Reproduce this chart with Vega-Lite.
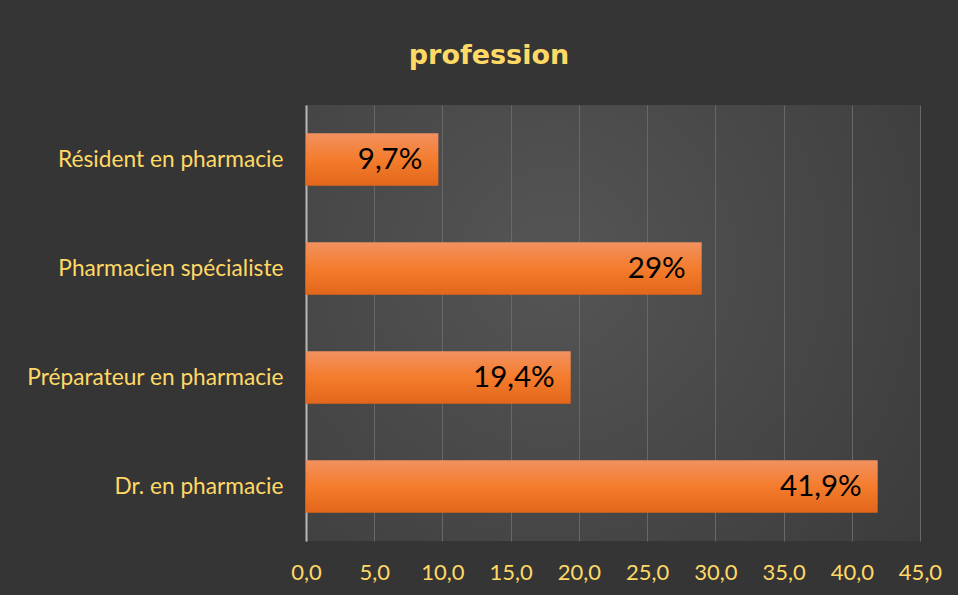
{
  "$schema": "https://vega.github.io/schema/vega-lite/v6.json",
  "width": 614,
  "height": 436,
  "autosize": {"type": "none"},
  "padding": {"left": 306, "top": 105, "right": 38, "bottom": 54},
  "background": "#353535",
  "title": {
    "text": "profession",
    "anchor": "middle",
    "dx": -124,
    "offset": 35,
    "font": "DejaVu Sans",
    "fontSize": 27,
    "fontWeight": "bold",
    "color": "#FFD966"
  },
  "data": {
    "values": [
      {"profession": "Résident en pharmacie", "value": 9.7, "label": "9,7%"},
      {"profession": "Pharmacien spécialiste", "value": 29, "label": "29%"},
      {"profession": "Préparateur en pharmacie", "value": 19.4, "label": "19,4%"},
      {"profession": "Dr. en pharmacie", "value": 41.9, "label": "41,9%"}
    ]
  },
  "encoding": {
    "y": {
      "field": "profession",
      "type": "nominal",
      "sort": null,
      "scale": {"paddingInner": 0.52, "paddingOuter": 0.26},
      "axis": {
        "title": null,
        "ticks": false,
        "labelPadding": 23,
        "labelLimit": 320,
        "labelFont": "Lato",
        "labelFontSize": 22.7,
        "labelColor": "#FFD966",
        "domainColor": "#B8B8B8",
        "domainWidth": 2
      }
    },
    "x": {
      "field": "value",
      "type": "quantitative",
      "scale": {"domain": [0, 45], "nice": false},
      "axis": {
        "title": null,
        "values": [0, 5, 10, 15, 20, 25, 30, 35, 40, 45],
        "labelExpr": "replace(format(datum.value, '.1f'), '.', ',')",
        "labelFlush": false,
        "labelOverlap": false,
        "ticks": false,
        "domain": false,
        "grid": true,
        "gridColor": "#686868",
        "gridWidth": 1,
        "labelPadding": 21,
        "labelFont": "Lato",
        "labelFontSize": 22,
        "labelColor": "#FFD966"
      }
    }
  },
  "layer": [
    {
      "mark": {
        "type": "bar",
        "color": {
          "gradient": "linear",
          "x1": 0, "y1": 0, "x2": 0, "y2": 1,
          "stops": [
            {"offset": 0, "color": "#F29160"},
            {"offset": 0.5, "color": "#F47C2C"},
            {"offset": 1, "color": "#E2661B"}
          ]
        }
      }
    },
    {
      "mark": {
        "type": "text",
        "align": "right",
        "baseline": "middle",
        "dx": -16,
        "font": "Lato",
        "fontSize": 29.5,
        "color": "#000000"
      },
      "encoding": {"text": {"field": "label"}}
    }
  ],
  "config": {
    "view": {
      "stroke": null,
      "fill": {
        "gradient": "radial",
        "x1": 0.4, "y1": 0.4, "r1": 0,
        "x2": 0.4, "y2": 0.4, "r2": 0.8,
        "stops": [
          {"offset": 0, "color": "#555555"},
          {"offset": 1, "color": "#3a3a3a"}
        ]
      }
    }
  }
}
